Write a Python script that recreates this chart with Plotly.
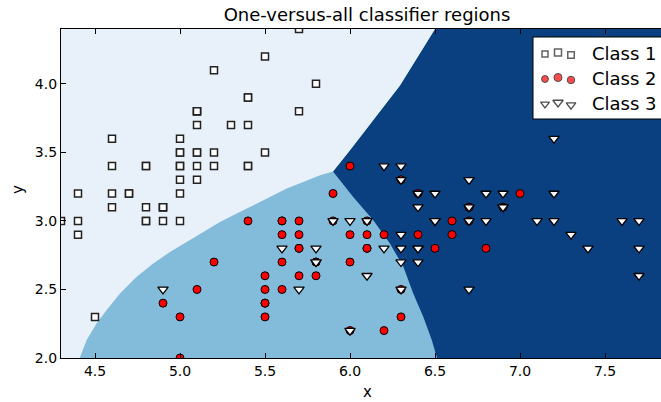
import plotly.graph_objects as go

# ---------------- data (Iris: sepal length vs sepal width) ----------------
class1_x = [5.1,4.9,4.7,4.6,5.0,5.4,4.6,5.0,4.4,4.9,5.4,4.8,4.8,4.3,5.8,5.7,5.4,5.1,5.7,5.1,
            5.4,5.1,4.6,5.1,4.8,5.0,5.0,5.2,5.2,4.7,4.8,5.4,5.2,5.5,4.9,5.0,5.5,4.9,4.4,5.1,
            5.0,4.5,4.4,5.0,5.1,4.8,5.1,4.6,5.3,5.0]
class1_y = [3.5,3.0,3.2,3.1,3.6,3.9,3.4,3.4,2.9,3.1,3.7,3.4,3.0,3.0,4.0,4.4,3.9,3.5,3.8,3.8,
            3.4,3.7,3.6,3.3,3.4,3.0,3.4,3.5,3.4,3.2,3.1,3.4,4.1,4.2,3.1,3.2,3.5,3.1,3.0,3.4,
            3.5,2.3,3.2,3.5,3.8,3.0,3.8,3.2,3.7,3.3]
class2_x = [7.0,6.4,6.9,5.5,6.5,5.7,6.3,4.9,6.6,5.2,5.0,5.9,6.0,6.1,5.6,6.7,5.6,5.8,6.2,5.6,
            5.9,6.1,6.3,6.1,6.4,6.6,6.8,6.7,6.0,5.7,5.5,5.5,5.8,6.0,5.4,6.0,6.7,6.3,5.6,5.5,
            5.5,6.1,5.8,5.0,5.6,5.7,5.7,6.2,5.1,5.7]
class2_y = [3.2,3.2,3.1,2.3,2.8,2.8,3.3,2.4,2.9,2.7,2.0,3.0,2.2,2.9,2.9,3.1,3.0,2.7,2.2,2.5,
            3.2,2.8,2.5,2.8,2.9,3.0,2.8,3.0,2.9,2.6,2.4,2.4,2.7,2.7,3.0,3.4,3.1,2.3,3.0,2.5,
            2.6,3.0,2.6,2.3,2.7,3.0,2.9,2.9,2.5,2.8]
class3_x = [6.3,5.8,7.1,6.3,6.5,7.6,4.9,7.3,6.7,7.2,6.5,6.4,6.8,5.7,5.8,6.4,6.5,7.7,7.7,6.0,
            6.9,5.6,7.7,6.3,6.7,7.2,6.2,6.1,6.4,7.2,7.4,7.9,6.4,6.3,6.1,7.7,6.3,6.4,6.0,6.9,
            6.7,6.9,5.8,6.8,6.7,6.7,6.3,6.5,6.2,5.9]
class3_y = [3.3,2.7,3.0,2.9,3.0,3.0,2.5,2.9,2.5,3.6,3.2,2.7,3.0,2.5,2.8,3.2,3.0,3.8,2.6,2.2,
            3.2,2.8,2.8,2.7,3.3,3.2,2.8,3.0,2.8,3.0,2.8,3.8,2.8,2.8,2.6,3.0,3.4,3.1,3.0,3.1,
            3.1,3.1,2.7,3.2,3.3,3.0,2.5,3.0,3.4,3.0]

class_names = ["Class 1", "Class 2", "Class 3"]

# decision-region boundaries (bottom -> junction)
light_mid_x = [4.410, 4.451, 4.510, 4.569, 4.647, 4.745, 4.843, 4.941, 5.039, 5.137,
               5.235, 5.334, 5.431, 5.529, 5.628, 5.725, 5.824, 5.900]
light_mid_y = [2.000, 2.131, 2.253, 2.350, 2.471, 2.592, 2.690, 2.774, 2.847, 2.920,
               2.993, 3.054, 3.114, 3.175, 3.236, 3.284, 3.333, 3.360]
mid_dark_x = [6.512, 6.481, 6.431, 6.372, 6.314, 6.235, 6.137, 6.019, 5.900]
mid_dark_y = [2.000, 2.131, 2.301, 2.471, 2.665, 2.835, 3.005, 3.175, 3.360]
# junction -> top
light_dark_x = [5.900, 6.000, 6.294, 6.500]
light_dark_y = [3.360, 3.515, 3.988, 4.400]

x_min, x_max = 4.3, 7.9
y_min, y_max = 2.0, 4.4

region_colors = ["#e8f1fa", "#83bbdb", "#0a3f80"]

# ---------------- layout geometry ----------------
W, H = 661, 402
L, T, B = 61, 29, 44
R = 0
plot_w = W - L - R
plot_h = H - T - B
px_per_unit = 170.0
x_view_max = x_min + plot_w / px_per_unit

fig = go.Figure()

# dark region (whole rectangle underneath)
fig.add_trace(go.Scatter(
    x=[x_min, x_max, x_max, x_min], y=[y_min, y_min, y_max, y_max],
    fill="toself", fillcolor=region_colors[2], mode="lines", line=dict(width=0),
    hoverinfo="skip", showlegend=False))

# mid region: left of mid/dark and light/dark boundaries
mid_px = [x_min] + mid_dark_x + light_dark_x[1:] + [x_min]
mid_py = [y_min] + mid_dark_y + light_dark_y[1:] + [y_max]
fig.add_trace(go.Scatter(
    x=mid_px, y=mid_py, fill="toself", fillcolor=region_colors[1], mode="lines",
    line=dict(width=0), hoverinfo="skip", showlegend=False))

# light region
light_px = [x_min] + light_mid_x + light_dark_x[1:] + [x_min]
light_py = [y_min] + light_mid_y + light_dark_y[1:] + [y_max]
fig.add_trace(go.Scatter(
    x=light_px, y=light_py, fill="toself", fillcolor=region_colors[0], mode="lines",
    line=dict(width=0), hoverinfo="skip", showlegend=False))

marker_styles = [
    dict(symbol="square", size=7, color="white", line=dict(color="#222222", width=1.5)),
    dict(symbol="circle", size=8, color="#ff0000", line=dict(color="black", width=1)),
    dict(symbol="triangle-down", size=9, color="white", line=dict(color="black", width=1.3)),
]

for xs, ys, st, nm in zip([class1_x, class2_x, class3_x], [class1_y, class2_y, class3_y],
                          marker_styles, class_names):
    fig.add_trace(go.Scatter(x=xs, y=ys, mode="markers", marker=st, name=nm,
                             showlegend=False))

# ---------------- custom legend (matplotlib style, 3 markers per entry) ----------------
leg_left_px, leg_top_px, leg_bot_px = 533, 37, 119
row_px = [54, 79, 104]
glyph_px = [545, 558, 571]
glyph_dy = [0.0, -1.5, 1.0]
glyph_sizes = [6, 7, 6.5]
text_px = 590

def px2paper_x(px):
    return (px - L) / plot_w

def py2paper_y(py):
    return (H - B - py) / plot_h

bx0, bx1 = px2paper_x(leg_left_px), 1.05
by0, by1 = py2paper_y(leg_bot_px), py2paper_y(leg_top_px)
fig.add_trace(go.Scatter(x=[bx0, bx1, bx1, bx0, bx0], y=[by0, by0, by1, by1, by0],
                         fill="toself", fillcolor="white", mode="lines",
                         line=dict(color="black", width=1), xaxis="x2", yaxis="y2",
                         hoverinfo="skip", showlegend=False))

for r, st, nm in zip(row_px, marker_styles, class_names):
    gx = [px2paper_x(g) for g in glyph_px]
    gy = [py2paper_y(r + d) for d in glyph_dy]
    s = dict(st)
    s["size"] = [v * (st["size"] / 7.0) for v in glyph_sizes]
    fig.add_trace(go.Scatter(x=gx, y=gy, mode="markers", marker=s, xaxis="x2", yaxis="y2",
                             hoverinfo="skip", showlegend=False))
    fig.add_annotation(x=px2paper_x(text_px), y=py2paper_y(r), xref="paper", yref="paper",
                       text=nm, showarrow=False, xanchor="left", yanchor="middle",
                       font=dict(size=18, color="black", family="DejaVu Sans"))

font_fam = "DejaVu Sans"
fig.update_layout(
    width=W, height=H,
    margin=dict(l=L, r=R, t=T, b=B, pad=0),
    paper_bgcolor="white", plot_bgcolor="white",
    font=dict(family=font_fam, size=14, color="black"),
    title=dict(text="One-versus-all classifier regions", x=px2paper_x(367), xref="paper",
               xanchor="center", y=1 - 15 / H, yref="container", yanchor="middle",
               font=dict(size=18, family=font_fam, color="black")),
    xaxis=dict(range=[x_min, x_view_max], tickvals=[4.5, 5.0, 5.5, 6.0, 6.5, 7.0, 7.5],
               tickformat=".1f", ticks="inside", ticklen=5, tickwidth=1, tickcolor="black",
               showline=True, linecolor="black", linewidth=1.3, mirror="ticks",
               showgrid=False, zeroline=False, tickfont=dict(size=14)),
    yaxis=dict(range=[y_min, y_max], tickvals=[2.0, 2.5, 3.0, 3.5, 4.0],
               tickformat=".1f", ticks="inside", ticklen=5, tickwidth=1, tickcolor="black",
               showline=True, linecolor="black", linewidth=1.3, mirror=False,
               showgrid=False, zeroline=False, tickfont=dict(size=14)),
    xaxis2=dict(range=[0, 1], overlaying="x", visible=False, fixedrange=True),
    yaxis2=dict(range=[0, 1], overlaying="y", visible=False, fixedrange=True),
    showlegend=False,
)

fig.add_annotation(x=px2paper_x(367), y=py2paper_y(392), xref="paper", yref="paper",
                   text="x", showarrow=False, xanchor="center", yanchor="middle",
                   font=dict(size=15, family=font_fam))
fig.add_annotation(x=px2paper_x(18), y=py2paper_y(190), xref="paper", yref="paper",
                   text="y", showarrow=False, xanchor="center", yanchor="middle",
                   textangle=-90, font=dict(size=15, family=font_fam))

fig.write_html("out.html", config={"displayModeBar": False},
               post_script="document.body.style.margin='0';document.body.style.overflow='hidden';")
